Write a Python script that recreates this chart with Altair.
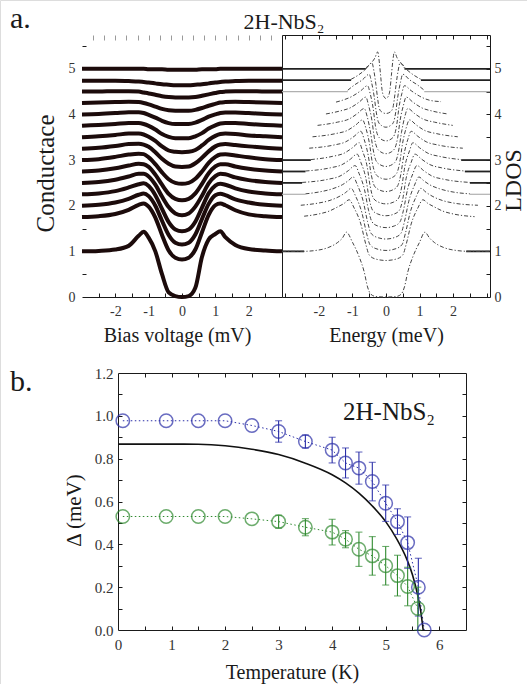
import altair as alt
import pandas as pd

FONT = "Liberation Serif"
INK = "#1a1a1a"
LABEL_INK = "#333333"

# ---------------- panel a, left: measured tunnelling conductance ----------------
BIAS_MV = [-3.0, -2.5, -2.0, -1.6, -1.3, -1.15, -1.0, -0.8, -0.6, -0.4, -0.2, 0.0,
           0.2, 0.4, 0.6, 0.8, 1.0, 1.15, 1.3, 1.6, 2.0, 2.5, 3.0]
COND_CURVES = [
    [1.00, 1.01, 1.04, 1.12, 1.34, 1.43, 1.30, 1.00, 0.50, 0.10, 0.02, 0.00, 0.02, 0.20, 0.88, 1.26, 1.38, 1.44, 1.31, 1.14, 1.05, 1.02, 1.00],
    [1.75, 1.77, 1.82, 1.91, 2.02, 2.05, 1.98, 1.74, 1.36, 1.02, 0.86, 0.82, 0.86, 1.04, 1.42, 1.80, 2.01, 2.05, 2.01, 1.90, 1.81, 1.77, 1.75],
    [2.00, 2.02, 2.07, 2.15, 2.24, 2.27, 2.21, 2.00, 1.67, 1.36, 1.19, 1.15, 1.19, 1.37, 1.71, 2.04, 2.23, 2.26, 2.23, 2.14, 2.07, 2.02, 2.00],
    [2.25, 2.27, 2.32, 2.40, 2.47, 2.49, 2.43, 2.23, 1.93, 1.64, 1.48, 1.44, 1.48, 1.65, 1.96, 2.27, 2.44, 2.48, 2.46, 2.38, 2.31, 2.27, 2.25],
    [2.50, 2.52, 2.57, 2.64, 2.70, 2.70, 2.64, 2.46, 2.20, 1.97, 1.83, 1.79, 1.83, 1.98, 2.22, 2.49, 2.65, 2.70, 2.69, 2.62, 2.56, 2.52, 2.50],
    [2.75, 2.77, 2.82, 2.88, 2.92, 2.91, 2.85, 2.68, 2.46, 2.26, 2.15, 2.12, 2.15, 2.27, 2.48, 2.71, 2.86, 2.91, 2.91, 2.86, 2.81, 2.77, 2.75],
    [3.00, 3.02, 3.07, 3.12, 3.14, 3.13, 3.06, 2.91, 2.73, 2.58, 2.50, 2.48, 2.50, 2.59, 2.75, 2.94, 3.07, 3.12, 3.13, 3.10, 3.06, 3.02, 3.00],
    [3.25, 3.27, 3.31, 3.35, 3.36, 3.34, 3.29, 3.17, 3.03, 2.92, 2.86, 2.85, 2.86, 2.93, 3.05, 3.19, 3.30, 3.34, 3.35, 3.33, 3.30, 3.27, 3.25],
    [3.50, 3.52, 3.55, 3.58, 3.58, 3.56, 3.51, 3.42, 3.30, 3.21, 3.18, 3.17, 3.18, 3.22, 3.32, 3.44, 3.53, 3.57, 3.58, 3.57, 3.54, 3.52, 3.50],
    [3.75, 3.77, 3.79, 3.81, 3.81, 3.79, 3.75, 3.67, 3.57, 3.51, 3.48, 3.48, 3.48, 3.52, 3.59, 3.69, 3.76, 3.80, 3.81, 3.81, 3.79, 3.77, 3.75],
    [4.00, 4.01, 4.03, 4.05, 4.05, 4.03, 3.99, 3.93, 3.86, 3.81, 3.79, 3.79, 3.79, 3.82, 3.88, 3.95, 4.00, 4.03, 4.04, 4.04, 4.03, 4.01, 4.00],
    [4.25, 4.26, 4.27, 4.28, 4.27, 4.25, 4.22, 4.17, 4.12, 4.09, 4.08, 4.08, 4.08, 4.10, 4.14, 4.19, 4.23, 4.26, 4.27, 4.28, 4.27, 4.26, 4.25],
    [4.50, 4.50, 4.51, 4.51, 4.50, 4.48, 4.46, 4.43, 4.40, 4.38, 4.37, 4.37, 4.37, 4.38, 4.41, 4.44, 4.47, 4.49, 4.50, 4.51, 4.51, 4.50, 4.50],
    [4.74, 4.74, 4.74, 4.73, 4.72, 4.71, 4.70, 4.68, 4.66, 4.65, 4.64, 4.64, 4.64, 4.65, 4.66, 4.68, 4.70, 4.71, 4.72, 4.73, 4.74, 4.74, 4.74],
    [5.00, 5.00, 5.00, 5.00, 5.00, 5.00, 4.99, 4.99, 4.99, 4.98, 4.98, 4.98, 4.98, 4.98, 4.99, 4.99, 4.99, 5.00, 5.00, 5.00, 5.00, 5.00, 5.00],
]
CURVE_COLOR = "#1c0b0b"

# ---------------- panel a, right: calculated LDOS ----------------
LDOS_E = [
    [-3.1, -2.5, -2.0, -1.7, -1.45, -1.3, -1.18, -1.0, -0.8, -0.65, -0.55, -0.45, -0.3, 0.0, 0.3, 0.45, 0.55, 0.65, 0.8, 1.0, 1.16, 1.3, 1.45, 1.7, 2.0, 2.5, 3.1],
    [-2.44, -2.0, -1.7, -1.45, -1.25, -1.1, -0.95, -0.75, -0.6, -0.5, -0.3, 0.0, 0.3, 0.5, 0.6, 0.75, 0.95, 1.1, 1.25, 1.45, 1.7, 2.0, 2.64],
    [-2.54, -2.0, -1.7, -1.4, -1.2, -1.04, -0.9, -0.72, -0.58, -0.48, -0.3, 0.0, 0.3, 0.48, 0.58, 0.72, 0.9, 1.04, 1.2, 1.4, 1.7, 2.0, 2.74],
    [-2.4, -2.0, -1.6, -1.3, -1.12, -0.98, -0.85, -0.68, -0.55, -0.45, -0.28, 0.0, 0.28, 0.45, 0.55, 0.68, 0.85, 0.98, 1.12, 1.3, 1.6, 2.0, 2.5],
    [-2.5, -1.72, -1.37, -1.12, -0.92, -0.8, -0.64, -0.52, -0.42, -0.26, 0.0, 0.26, 0.42, 0.52, 0.64, 0.8, 0.92, 1.12, 1.37, 1.72, 2.5],
    [-2.4, -1.66, -1.31, -1.06, -0.86, -0.75, -0.6, -0.5, -0.4, -0.25, 0.0, 0.25, 0.4, 0.5, 0.6, 0.75, 0.86, 1.06, 1.31, 1.66, 2.35],
    [-2.24, -1.6, -1.25, -1.0, -0.8, -0.7, -0.56, -0.47, -0.38, -0.23, 0.0, 0.23, 0.38, 0.47, 0.56, 0.7, 0.8, 1.0, 1.25, 1.6, 2.24],
    [-2.29, -1.55, -1.2, -0.95, -0.75, -0.65, -0.53, -0.44, -0.35, -0.21, 0.0, 0.21, 0.35, 0.44, 0.53, 0.65, 0.75, 0.95, 1.2, 1.55, 2.29],
    [-2.19, -1.5, -1.15, -0.9, -0.7, -0.6, -0.49, -0.41, -0.32, -0.19, 0.0, 0.19, 0.32, 0.41, 0.49, 0.6, 0.7, 0.9, 1.15, 1.5, 2.14],
    [-2.04, -1.45, -1.1, -0.85, -0.65, -0.56, -0.46, -0.38, -0.3, -0.18, 0.0, 0.18, 0.3, 0.38, 0.46, 0.56, 0.65, 0.85, 1.1, 1.45, 1.99],
    [-1.79, -1.4, -1.05, -0.8, -0.6, -0.52, -0.42, -0.35, -0.27, -0.16, 0.0, 0.16, 0.27, 0.35, 0.42, 0.52, 0.6, 0.8, 1.05, 1.4, 1.84],
    [-1.49, -1.3, -1.0, -0.75, -0.55, -0.47, -0.38, -0.32, -0.25, -0.15, 0.0, 0.15, 0.25, 0.32, 0.38, 0.47, 0.55, 0.75, 1.0, 1.3, 1.64],
    [-1.14, -0.95, -0.7, -0.5, -0.43, -0.35, -0.29, -0.23, -0.14, 0.0, 0.14, 0.23, 0.29, 0.35, 0.43, 0.5, 0.7, 0.95, 1.14],
    [-1.04, -0.85, -0.62, -0.42, -0.36, -0.3, -0.25, -0.2, -0.12, 0.0, 0.12, 0.2, 0.25, 0.3, 0.36, 0.42, 0.62, 0.85, 1.04],
    [-0.6, -0.45, -0.33, -0.25, -0.2, -0.16, -0.12, -0.07, 0.0, 0.07, 0.12, 0.16, 0.2, 0.25, 0.33, 0.45, 0.55],
]
LDOS_V = [
    [1.0, 1.0, 1.03, 1.09, 1.19, 1.29, 1.42, 1.2, 0.88, 0.55, 0.22, 0.06, 0.01, 0.0, 0.01, 0.06, 0.22, 0.55, 0.88, 1.2, 1.42, 1.29, 1.19, 1.09, 1.03, 1.0, 1.0],
    [1.77, 1.82, 1.88, 1.97, 2.05, 2.13, 1.95, 1.6, 1.15, 0.92, 0.83, 0.8, 0.83, 0.92, 1.15, 1.6, 1.95, 2.13, 2.05, 1.97, 1.88, 1.82, 1.76],
    [2.01, 2.06, 2.11, 2.2, 2.29, 2.38, 2.2, 1.85, 1.4, 1.15, 1.06, 1.02, 1.06, 1.15, 1.4, 1.85, 2.2, 2.38, 2.29, 2.2, 2.11, 2.06, 2.01],
    [2.26, 2.3, 2.37, 2.46, 2.55, 2.63, 2.45, 2.1, 1.65, 1.4, 1.31, 1.27, 1.31, 1.4, 1.65, 2.1, 2.45, 2.63, 2.55, 2.46, 2.37, 2.3, 2.26],
    [2.51, 2.58, 2.65, 2.77, 2.88, 2.7, 2.35, 1.9, 1.65, 1.56, 1.52, 1.56, 1.65, 1.9, 2.35, 2.7, 2.88, 2.77, 2.65, 2.58, 2.51],
    [2.76, 2.83, 2.9, 3.02, 3.13, 2.95, 2.6, 2.15, 1.9, 1.82, 1.78, 1.82, 1.9, 2.15, 2.6, 2.95, 3.13, 3.02, 2.9, 2.83, 2.76],
    [3.01, 3.08, 3.15, 3.27, 3.38, 3.2, 2.85, 2.42, 2.17, 2.08, 2.04, 2.08, 2.17, 2.42, 2.85, 3.2, 3.38, 3.27, 3.15, 3.08, 3.01],
    [3.26, 3.33, 3.4, 3.52, 3.63, 3.45, 3.1, 2.68, 2.44, 2.35, 2.31, 2.35, 2.44, 2.68, 3.1, 3.45, 3.63, 3.52, 3.4, 3.33, 3.26],
    [3.51, 3.58, 3.65, 3.77, 3.88, 3.7, 3.35, 2.95, 2.71, 2.62, 2.58, 2.62, 2.71, 2.95, 3.35, 3.7, 3.88, 3.77, 3.65, 3.58, 3.51],
    [3.76, 3.83, 3.9, 4.02, 4.13, 3.95, 3.6, 3.22, 2.99, 2.9, 2.86, 2.9, 2.99, 3.22, 3.6, 3.95, 4.13, 4.02, 3.9, 3.83, 3.76],
    [4.01, 4.07, 4.15, 4.27, 4.38, 4.2, 3.87, 3.5, 3.27, 3.18, 3.14, 3.18, 3.27, 3.5, 3.87, 4.2, 4.38, 4.27, 4.15, 4.07, 4.01],
    [4.27, 4.31, 4.4, 4.52, 4.63, 4.45, 4.12, 3.77, 3.55, 3.46, 3.42, 3.46, 3.55, 3.77, 4.12, 4.45, 4.63, 4.52, 4.4, 4.31, 4.28],
    [4.53, 4.64, 4.76, 4.88, 4.7, 4.38, 4.05, 3.84, 3.76, 3.72, 3.76, 3.84, 4.05, 4.38, 4.7, 4.88, 4.76, 4.64, 4.53],
    [4.77, 4.85, 4.98, 5.13, 4.95, 4.65, 4.35, 4.13, 4.05, 4.02, 4.05, 4.13, 4.35, 4.65, 4.95, 5.13, 4.98, 4.85, 4.77],
    [5.02, 5.12, 5.24, 5.37, 5.15, 4.85, 4.55, 4.4, 4.35, 4.4, 4.55, 4.85, 5.15, 5.37, 5.24, 5.12, 5.02],
]
# flat solid continuations of some LDOS curves out to the frame
EXT_LEVEL = [1.0, 2.25, 2.5, 2.75, 3.0, 4.5, 4.75, 5.0]
EXT_LEFT_END = [-2.44, -2.4, -2.5, -2.4, -2.24, -1.14, -1.04, -0.6]
EXT_RIGHT_START = [2.39, 2.5, 2.5, 2.35, 2.24, 1.14, 1.04, 0.55]
EXT_TONE = ["dark", "light", "dark", "dark", "dark", "light", "dark", "dark"]

# ---------------- panel b: gap vs temperature ----------------
T_BLUE = [0.09, 0.9, 1.5, 2.0, 2.5, 3.0, 3.5, 4.0, 4.25, 4.5, 4.75, 5.0, 5.22, 5.41, 5.61, 5.72]
D_BLUE = [0.977, 0.977, 0.977, 0.977, 0.955, 0.927, 0.88, 0.84, 0.78, 0.756, 0.693, 0.592, 0.506, 0.408, 0.2, 0.0]
E_BLUE = [0, 0, 0, 0, 0, 0.05, 0.03, 0.06, 0.07, 0.075, 0.09, 0.085, 0.06, 0.12, 0.135, 0]
T_GREEN = [0.09, 0.9, 1.5, 2.0, 2.5, 3.0, 3.5, 4.0, 4.25, 4.5, 4.75, 5.0, 5.22, 5.41, 5.6]
D_GREEN = [0.53, 0.53, 0.53, 0.53, 0.519, 0.506, 0.48, 0.457, 0.424, 0.377, 0.346, 0.30, 0.254, 0.203, 0.10]
E_GREEN = [0, 0, 0, 0, 0, 0.03, 0.04, 0.06, 0.04, 0.08, 0.09, 0.09, 0.095, 0.09, 0.1]
T_FIT = [0, 0.5, 1.0, 1.5, 2.0, 2.5, 3.0, 3.5, 4.0, 4.25, 4.5, 4.75, 5.0, 5.2, 5.4, 5.5, 5.6, 5.65, 5.7]
D_FIT = [0.868, 0.868, 0.868, 0.867, 0.860, 0.844, 0.819, 0.779, 0.725, 0.687, 0.639, 0.579, 0.506, 0.428, 0.327, 0.258, 0.160, 0.095, 0.0]
BLUE, GREEN = "#2b2fa8", "#2f8a2f"

# tick positions
TICKS_BIAS = [-2.5, -2.0, -1.5, -1.0, -0.5, 0.0, 0.5, 1.0, 1.5, 2.0, 2.5]
TICKS_TOP_LEFT = [-2.67, -2.33, -2.0, -1.67, -1.33, -1.0, -0.67, -0.33, 0.0, 0.33, 0.67, 1.0, 1.33, 1.67, 2.0, 2.33, 2.67]
TICKS_E = [-3.0, -2.5, -2.0, -1.5, -1.0, -0.5, 0.0, 0.5, 1.0, 1.5, 2.0, 2.5, 3.0]
TICKS_A = [0.5, 1.0, 1.5, 2.0, 2.5, 3.0, 3.5, 4.0, 4.5, 5.0, 5.5]
LABELS_A = [0, 1, 2, 3, 4, 5]
LABELS_X = [-2, -1, 0, 1, 2]
TICKS_T = [0.5, 1.0, 1.5, 2.0, 2.5, 3.0, 3.5, 4.0, 4.5, 5.0, 5.5, 6.0]
LABELS_T = [0, 1, 2, 3, 4, 5, 6]
TICKS_D = [0.1, 0.2, 0.3, 0.4, 0.5, 0.6, 0.7, 0.8, 0.9, 1.0, 1.1]
LABELS_D = [0.0, 0.2, 0.4, 0.6, 0.8, 1.0, 1.2]

# ---------------- data frames ----------------
left_df = pd.DataFrame([
    {"x": x, "y": y, "curve": i}
    for i, ys in enumerate(COND_CURVES) for x, y in zip(BIAS_MV, ys)
])
ldos_df = pd.DataFrame([
    {"x": x, "y": y, "curve": i}
    for i, (xs, ys) in enumerate(zip(LDOS_E, LDOS_V)) for x, y in zip(xs, ys)
])
E_MIN, E_MAX = -3.1, 3.1
ext_rows = []
for i, (lvl, le, rs, tone) in enumerate(zip(EXT_LEVEL, EXT_LEFT_END, EXT_RIGHT_START, EXT_TONE)):
    col = "#222222" if tone == "dark" else "#b0b0b0"
    sw = 1.8 if tone == "dark" else 1.2
    for seg, (a, b) in (("L", (E_MIN, le)), ("R", (rs, E_MAX))):
        ext_rows.append({"x": a, "y": lvl, "seg": f"{i}{seg}", "col": col, "sw": sw})
        ext_rows.append({"x": b, "y": lvl, "seg": f"{i}{seg}", "col": col, "sw": sw})
ext_df = pd.DataFrame(ext_rows)

pts = []
for name, col, ts, ds, es in (("blue", BLUE, T_BLUE, D_BLUE, E_BLUE),
                              ("green", GREEN, T_GREEN, D_GREEN, E_GREEN)):
    for t, d, e in zip(ts, ds, es):
        pts.append({"T": t, "D": d, "E": e, "series": name, "col": col,
                    "lo": d - e, "hi": d + e})
pts_df = pd.DataFrame(pts)
err_df = pts_df[pts_df["E"] > 0].copy()
cap_df = pd.concat([
    err_df[["T", "col"]].assign(v=err_df["lo"]),
    err_df[["T", "col"]].assign(v=err_df["hi"]),
], ignore_index=True)
fit_df = pd.DataFrame({"T": T_FIT, "D": D_FIT})
inv_df = pd.DataFrame({"x": [0.0], "y": [0.0]})
one_df = pd.DataFrame({"k": [0]})


# ---------------- scales (pixel layout of the three plot areas) ----------------
def sc(domain, rng):
    return alt.Scale(domain=domain, range=rng, nice=False, zero=False)


XL = sc([-3, 3], [82, 282])
YA = sc([0, 5.74], [297, 35])
XR = sc([E_MIN, E_MAX], [282, 490])
XB = sc([0, 6.5], [118, 466])
YB = sc([0, 1.2], [630, 373])

NEG_EXPR = "datum.value < 0 ? '-' + abs(datum.value) : '' + datum.value"


def label_axis(orient, offset, values, title, title_size, pad_label, pad_title,
               domain=True, label_size=14, **extra):
    kw = dict(orient=orient, offset=offset, values=values, ticks=False, tickSize=0,
              domain=domain, domainColor=INK, domainWidth=1,
              labelFont=FONT, labelFontSize=label_size, labelColor=LABEL_INK,
              labelPadding=pad_label, labelFlush=False, labelOverlap=False,
              title=title, titleFont=FONT, titleFontSize=title_size,
              titleFontWeight="normal", titleColor=INK, titlePadding=pad_title,
              grid=False)
    kw.update(extra)
    return alt.Axis(**kw)


def tick_axis(orient, offset, values, size=4, color=INK):
    return alt.Axis(orient=orient, offset=offset, values=values, labels=False,
                    domain=False, ticks=True, tickSize=size, tickColor=color,
                    tickWidth=1, title=None, grid=False)


def frame_axis(orient, offset):
    return alt.Axis(orient=orient, offset=offset, labels=False, ticks=False,
                    domain=True, domainColor=INK, domainWidth=1, title=None,
                    grid=False)


# ---------------- panel a, right ----------------
r_dash = alt.Chart(ldos_df).mark_line(
    color="#444444", strokeWidth=1.0, strokeDash=[4, 2, 1.2, 2], interpolate="monotone"
).encode(
    x=alt.X("x:Q", scale=XR, axis=label_axis("bottom", -387, LABELS_X, "Energy (meV)", 20, 7, 7,
                                             labelExpr=NEG_EXPR)),
    y=alt.Y("y:Q", scale=YA, axis=label_axis("right", -37, LABELS_A, "LDOS", 24, 4, 1,
                                             titleAngle=270, titleBaseline="top",
                                             titleX=11, titleY=180)),
    detail="curve:N",
)
r_solid = alt.Chart(ext_df).mark_line().encode(
    x=alt.X("x:Q", scale=XR, axis=frame_axis("top", -35)),
    y=alt.Y("y:Q", scale=YA, axis=frame_axis("left", -282)),
    detail="seg:N",
    color=alt.Color("col:N", scale=None),
    strokeWidth=alt.StrokeWidth("sw:Q", scale=None),
)
r_ticks = alt.Chart(inv_df).mark_point(opacity=0).encode(
    x=alt.X("x:Q", scale=XR, axis=tick_axis("bottom", -391, TICKS_E)),
    y=alt.Y("y:Q", scale=YA, axis=tick_axis("right", -41, TICKS_A)),
)
r_top = alt.Chart(inv_df).mark_point(opacity=0).encode(
    x=alt.X("x:Q", scale=XR, axis=tick_axis("top", -39, TICKS_E)),
    y=alt.Y("y:Q", scale=YA, axis=None),
)

# ---------------- panel a, left ----------------
l_curves = alt.Chart(left_df).mark_line(
    color=CURVE_COLOR, strokeWidth=4, interpolate="monotone"
).encode(
    x=alt.X("x:Q", scale=XL, axis=label_axis("bottom", -387, LABELS_X, "Bias voltage (mV)", 20, 7, 7,
                                             labelExpr=NEG_EXPR, titleX=177)),
    y=alt.Y("y:Q", scale=YA, axis=label_axis("left", -82, LABELS_A, "Conductace", 25, 7, 10,
                                             domain=False, titleY=173)),
    detail="curve:N",
)
l_ticks = alt.Chart(inv_df).mark_point(opacity=0).encode(
    x=alt.X("x:Q", scale=XL, axis=tick_axis("bottom", -391, TICKS_BIAS)),
    y=alt.Y("y:Q", scale=YA, axis=tick_axis("left", -86, TICKS_A)),
)
l_top = alt.Chart(inv_df).mark_point(opacity=0).encode(
    x=alt.X("x:Q", scale=XL, axis=tick_axis("top", -40, TICKS_TOP_LEFT, size=5, color="#9a9a9a")),
    y=alt.Y("y:Q", scale=YA, axis=None),
)

# ---------------- panel b ----------------
b_dot = alt.Chart(pts_df).mark_line(strokeWidth=1, strokeDash=[1.5, 2.5]).encode(
    x=alt.X("T:Q", scale=XB, axis=frame_axis("top", -373)),
    y=alt.Y("D:Q", scale=YB, axis=frame_axis("right", -61)),
    color=alt.Color("col:N", scale=None),
    detail="series:N",
)
b_fit = alt.Chart(fit_df).mark_line(color="#111111", strokeWidth=1.6, interpolate="monotone").encode(
    x=alt.X("T:Q", scale=XB, axis=label_axis("bottom", -54, LABELS_T, "Temperature (K)", 20, 7, 10,
                                             label_size=15, format="d")),
    y=alt.Y("D:Q", scale=YB, axis=label_axis("left", -118, LABELS_D, "Δ (meV)", 21, 5, 10,
                                             label_size=15, format=".1f", titleY=510)),
)
b_err = alt.Chart(err_df).mark_rule(strokeWidth=1.1).encode(
    x=alt.X("T:Q", scale=XB, axis=tick_axis("bottom", -58, TICKS_T)),
    y=alt.Y("lo:Q", scale=YB, axis=tick_axis("left", -122, TICKS_D)),
    y2="hi:Q",
    color=alt.Color("col:N", scale=None),
)
b_cap = alt.Chart(cap_df).mark_tick(orient="horizontal", size=7, thickness=1.1).encode(
    x=alt.X("T:Q", scale=XB, axis=tick_axis("top", -377, TICKS_T)),
    y=alt.Y("v:Q", scale=YB, axis=tick_axis("right", -65, TICKS_D)),
    color=alt.Color("col:N", scale=None),
)
b_pts = alt.Chart(pts_df).mark_point(shape="circle", filled=False, size=180, strokeWidth=1.5).encode(
    x=alt.X("T:Q", scale=XB, axis=None),
    y=alt.Y("D:Q", scale=YB, axis=None),
    color=alt.Color("col:N", scale=None),
)


def note(text, x, y, size):
    return alt.Chart(one_df).mark_text(
        text=text, font=FONT, fontSize=size, align="left", baseline="alphabetic", color=INK
    ).encode(x=alt.value(x), y=alt.value(y))


title_a = alt.Chart(one_df).mark_text(
    text="2H-NbS₂", font=FONT, fontSize=22, align="center", baseline="alphabetic", color=INK
).encode(x=alt.value(284), y=alt.value(29))

chart = alt.layer(
    r_solid, r_dash, r_ticks, r_top,
    l_curves, l_ticks, l_top,
    b_dot, b_fit, b_err, b_cap, b_pts,
    note("a.", 10, 28, 30), note("b.", 10, 391, 30), note("2H-NbS₂", 343, 420, 25), title_a,
).resolve_scale(
    x="independent", y="independent"
).resolve_axis(
    x="independent", y="independent"
).properties(
    width=527, height=684, autosize=alt.AutoSizeParams(type="none"), padding=0
).configure_view(stroke=None).configure(font=FONT)

chart.save("out.html", embed_options={"renderer": "svg", "actions": False})
